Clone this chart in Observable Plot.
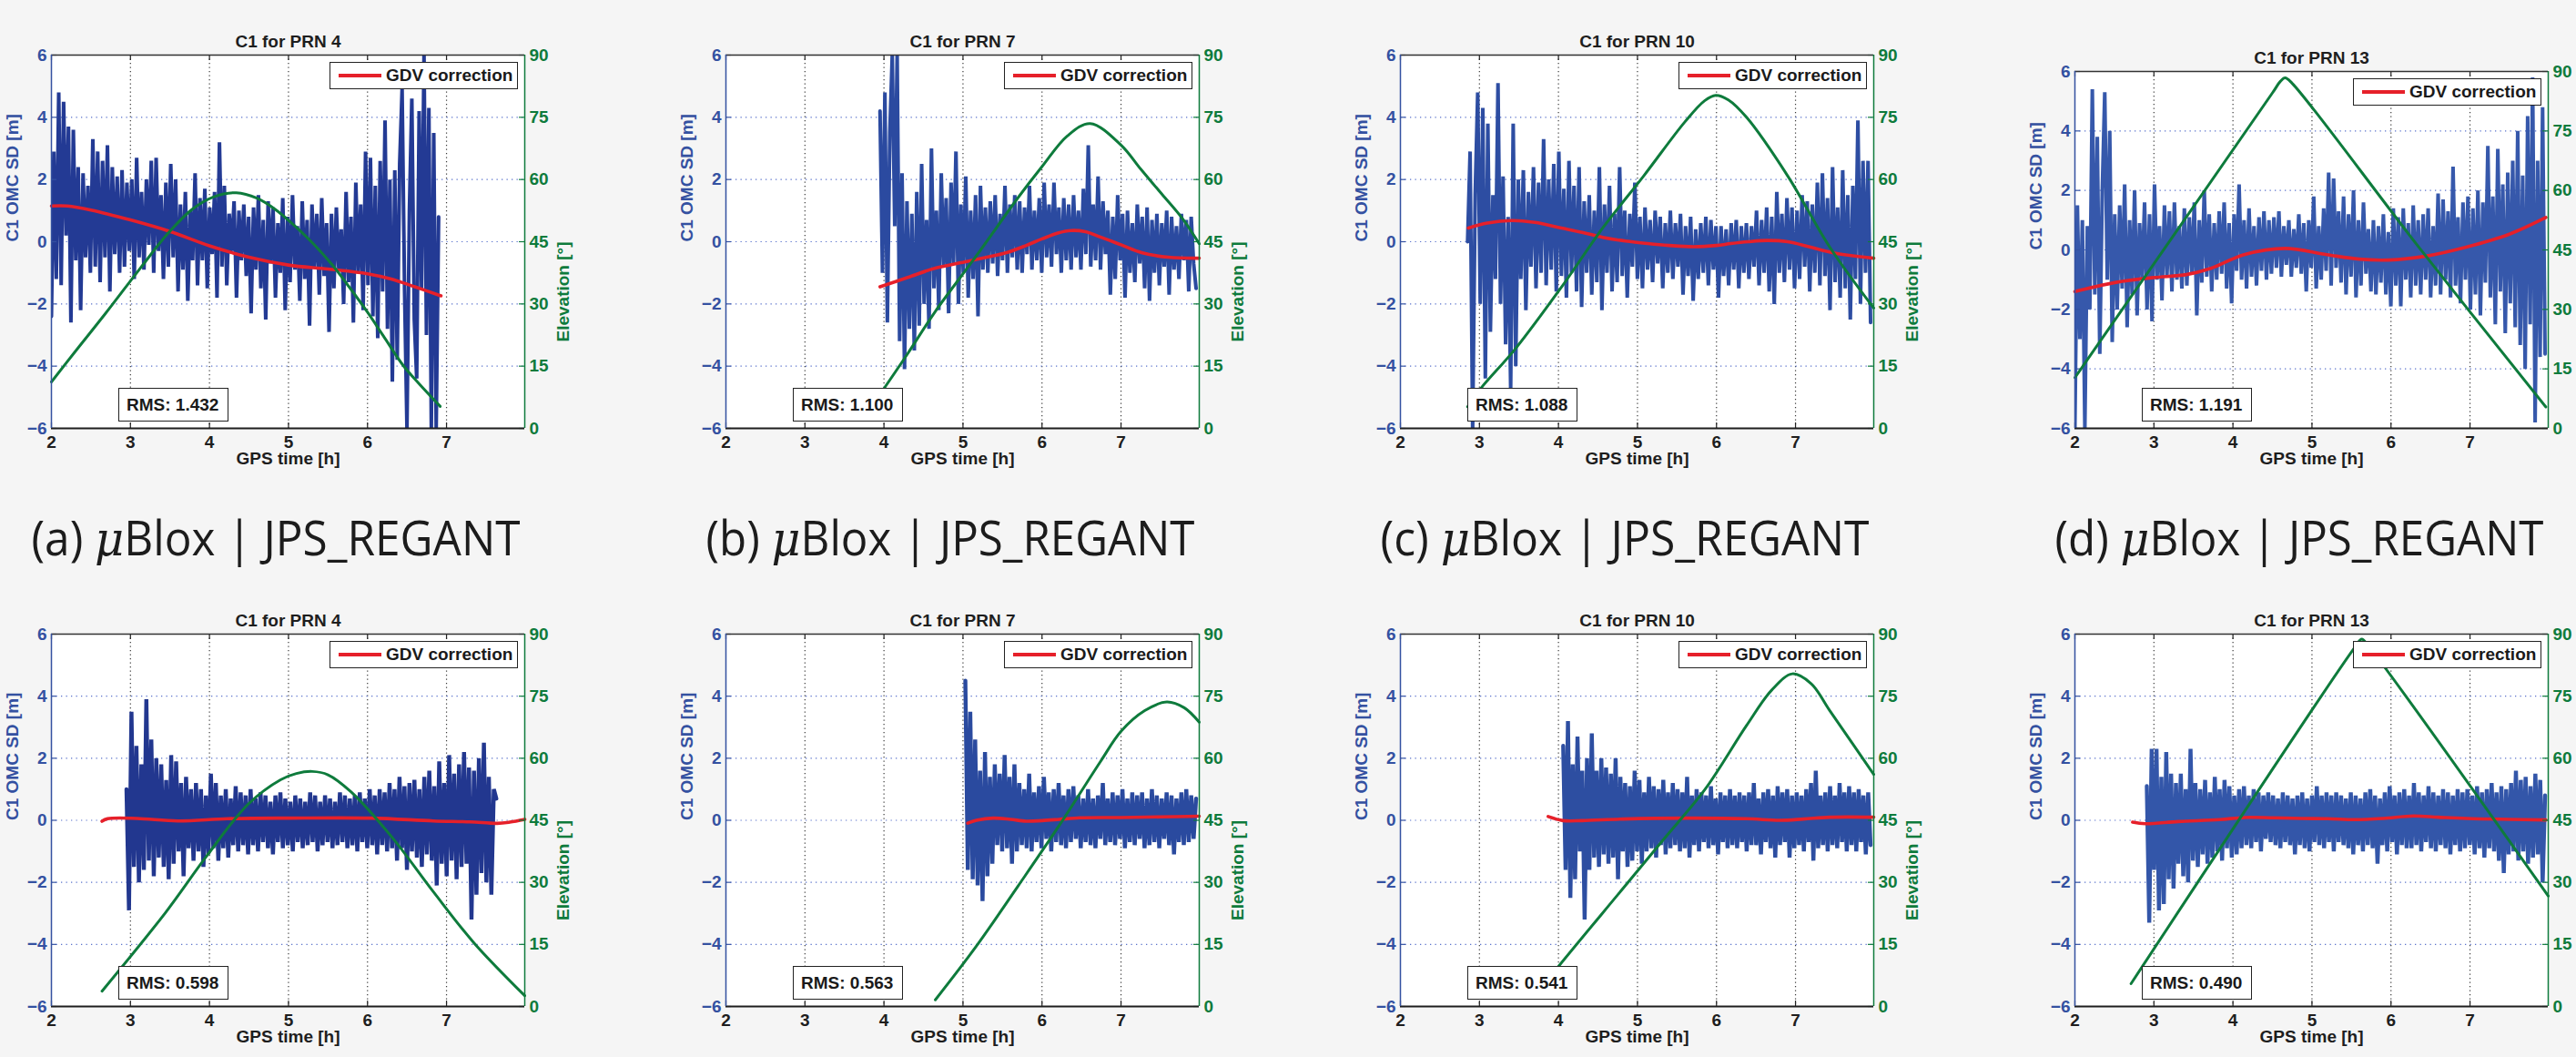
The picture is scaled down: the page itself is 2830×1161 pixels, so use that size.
<!DOCTYPE html>
<html><head><meta charset="utf-8">
<script src="https://cdn.jsdelivr.net/npm/d3@7"></script>
<script src="https://cdn.jsdelivr.net/npm/@observablehq/plot@0.6"></script>
<style>
html,body{margin:0;padding:0;background:#f5f5f5;}
#root{position:relative;width:2830px;height:1161px;overflow:hidden;background:#f5f5f5;}
.panel{position:absolute;}
.panel svg{position:absolute;left:0;top:0;}
.box{position:absolute;background:#fff;border:1.5px solid #222;box-sizing:border-box;font:bold 19px "Liberation Sans",Arial,sans-serif;color:#1a1a1a;white-space:nowrap;display:flex;align-items:center;}
</style></head><body><div id="root"></div>
<script>
// ---------- axis ticks / texts ----------
const xTicks = [2, 3, 4, 5, 6, 7];
const yTicks = [-6, -4, -2, 0, 2, 4, 6];
const elevTicks = [0, 15, 30, 45, 60, 75, 90];
const xDomain = [2, 7.99];
const titles = ["C1 for PRN 4", "C1 for PRN 7", "C1 for PRN 10", "C1 for PRN 13"];
const rmsTop = ["1.432", "1.100", "1.088", "1.191"];
const rmsBottom = ["0.598", "0.563", "0.541", "0.490"];
const captionLetters = ["(a)", "(b)", "(c)", "(d)"];

// ---------- top row: uBlox ----------
const spanTopA = [2.0, 6.9];
const blueTopA = [-2.4,2.9,-1.2,4.8,-1.4,4.5,0.2,3.7,-2.6,3.6,
-0.6,2.4,-2.2,2.2,-0.5,1.8,-1.0,3.3,-0.8,2.9,
-1.3,2.6,-0.5,3.1,-1.6,2.4,-0.4,2.1,-1.0,2.3,
-0.8,1.9,-0.3,2.0,-1.2,2.7,-0.5,1.6,-0.9,2.0,
-0.1,2.6,-1.0,2.7,-0.3,1.5,-1.2,1.9,-0.8,2.5,
-0.5,2.0,-1.6,1.2,-0.9,1.6,-1.9,1.0,-0.6,2.2,
-1.4,1.4,-0.6,1.7,-1.5,1.1,-0.4,1.6,-1.8,3.2,
-0.8,1.8,-1.4,0.9,-0.3,1.3,-1.8,1.0,-0.6,1.2,
-1.1,0.8,-2.3,1.1,-0.9,1.5,-1.5,0.7,-2.5,1.3,
-0.7,1.1,-1.8,0.6,-1.0,1.4,-2.2,0.8,-1.3,1.5,
-0.9,0.5,-1.9,1.3,-1.2,0.7,-2.7,1.2,-0.8,0.9,
-1.7,1.4,-1.1,0.6,-2.9,0.9,-1.5,1.1,-0.9,0.4,
-2.0,1.6,-1.3,0.8,-2.6,1.9,-1.0,1.2,-2.2,2.9,
-1.4,2.7,-2.4,1.8,-3.1,2.6,-1.6,3.9,-2.8,2.0,
-4.5,2.3,-3.8,2.5,4.9,-1.5,-6.0,1.0,4.6,-2.5,
-4.4,4.2,-1.5,6.0,-3.0,4.3,-6.0,3.5,-6.0,0.8];
const redTopA_t = [2.0, 2.2, 2.5, 3.0, 3.5, 4.0, 4.5, 5.0, 5.5, 6.0, 6.3, 6.6, 6.93];
const redTopA_v = [1.15, 1.15, 1.02, 0.7, 0.33, -0.13, -0.5, -0.75, -0.88, -1.03, -1.2, -1.45, -1.74];
const elevTopA_t = [2.0, 2.3, 2.68, 3.12, 3.47, 3.78, 4.05, 4.34, 4.6, 4.84, 5.08, 5.32, 5.55, 5.76, 6.0, 6.2, 6.45, 6.65, 6.92];
const elevTopA_v = [11.2, 18.5, 27.6, 38.5, 46.9, 52.8, 55.8, 56.8, 55.5, 52.7, 48.8, 44.4, 39.5, 34.3, 28, 22.3, 15.2, 10.8, 5.3];

const spanTopB = [3.95, 7.95];
const blueTopB = [4.2,-1.0,4.8,-2.6,3.5,6.0,0.5,6.0,-3.2,2.2,
-4.1,1.3,-2.8,0.9,-3.5,1.6,-2.7,2.5,-2.0,0.7,
-2.8,3.0,-1.5,1.0,-2.2,2.2,-0.8,1.4,-2.3,1.9,
-0.7,2.9,-2.0,1.2,-1.0,2.1,-1.8,1.0,-1.2,1.5,
-2.4,1.8,-0.9,1.1,-1.0,1.3,-0.7,1.5,-1.1,0.9,
-0.6,1.8,-1.0,1.2,-0.5,1.5,-0.9,1.3,-1.0,1.1,
-0.4,1.8,-0.9,1.0,-0.6,1.4,-1.0,1.9,-0.5,1.2,
-0.8,1.9,-0.4,1.1,-1.0,1.4,-0.6,1.2,-0.9,1.5,
-0.5,1.0,-0.9,1.7,-0.4,3.1,-0.8,1.2,-0.6,2.1,
-0.9,1.3,-0.4,1.0,-1.7,0.8,-1.2,1.5,-0.6,0.9,
-1.8,1.0,-1.0,0.6,-1.3,1.2,-0.7,0.8,-1.5,1.1,
-1.9,0.7,-1.0,0.9,-1.4,0.6,-0.8,1.0,-1.7,0.8,
-0.9,0.5,-1.2,0.9,-0.6,0.7,-1.6,0.8,-0.7,-1.5];
const redTopB_t = [3.95, 4.3, 4.65, 5.02, 5.3, 5.54, 5.8, 6.0, 6.2, 6.37, 6.55, 6.74, 7.0, 7.26, 7.6, 7.99];
const redTopB_v = [-1.45, -1.15, -0.85, -0.65, -0.5, -0.36, -0.12, 0.09, 0.28, 0.36, 0.32, 0.15, -0.1, -0.35, -0.5, -0.53];
const elevTopB_t = [3.95, 4.3, 4.65, 5.17, 5.7, 6.0, 6.32, 6.61, 7.0, 7.25, 7.52, 7.78, 7.99];
const elevTopB_v = [8.2, 18, 28.2, 41.6, 55.7, 63.1, 70.5, 73.5, 68.3, 62.5, 56.4, 50.5, 44.5];

const spanTopC = [2.85, 7.95];
const blueTopC = [0.0,2.9,-6.0,1.5,4.8,-2.0,4.3,-4.4,3.8,-2.9,
1.5,-1.2,5.1,-2.0,2.1,-3.3,0.8,-4.7,3.8,-4.0,
2.0,-1.2,2.3,-2.2,1.6,-0.8,2.4,-1.5,1.9,-1.0,
3.3,-1.4,2.0,-0.9,2.5,-1.6,2.9,-1.1,1.7,-1.8,
2.6,-1.0,1.8,-1.6,2.4,-2.1,1.3,-1.0,1.5,-1.7,
1.0,-1.3,2.4,-2.2,1.2,-1.0,1.8,-1.6,0.9,-1.3,
2.4,-1.1,1.0,-1.8,0.9,-0.8,1.9,-1.2,0.8,-1.5,
1.1,-0.9,0.7,-1.3,1.0,-0.7,0.8,-1.5,0.6,-1.0,
1.0,-1.2,0.6,-0.8,0.9,-1.7,0.5,-1.1,0.8,-1.9,
0.4,-1.2,0.6,-1.0,0.8,-1.4,0.7,-0.9,0.5,-1.8,
0.5,-1.1,0.4,-1.4,0.6,-0.9,0.7,-1.5,0.5,-1.0,
0.6,-1.2,0.5,-0.8,1.0,-1.4,0.7,-1.0,1.1,-1.6,
0.8,-2.0,1.6,-1.0,0.9,-1.3,1.4,-0.9,1.1,-1.5,
1.0,-1.2,1.5,-0.8,1.3,-1.6,1.2,-1.0,1.9,-1.4,
2.2,-1.1,1.4,-2.2,2.4,-1.3,1.1,-1.8,2.3,-1.5,
1.5,-2.5,1.8,-1.2,3.9,-2.0,2.6,-1.0,2.6,-2.6];
const redTopC_t = [2.86, 3.1, 3.41, 3.7, 4.04, 4.3, 4.56, 4.85, 5.13, 5.4, 5.71, 6.0, 6.18, 6.4, 6.64, 6.9, 7.17, 7.48, 7.99];
const redTopC_v = [0.44, 0.6, 0.68, 0.62, 0.44, 0.3, 0.14, 0.02, -0.06, -0.12, -0.16, -0.12, -0.06, 0.0, 0.04, 0.0, -0.16, -0.36, -0.53];
const elevTopC_t = [2.85, 3.02, 3.46, 4.04, 4.56, 5.08, 5.6, 5.85, 5.99, 6.15, 6.38, 6.9, 7.43, 7.99];
const elevTopC_v = [5.2, 9.7, 19.3, 34.1, 48.3, 60.9, 73.9, 79, 80.3, 79.2, 75, 60.9, 43.8, 29];

const spanTopD = [2.0, 7.95];
const blueTopD = [-6.0,1.5,-3.0,1.0,-6.0,0.8,-2.0,5.4,-1.5,3.8,
-3.5,2.0,5.3,-1.0,4.0,-3.1,1.2,-2.0,1.5,-1.3,
2.2,-2.6,1.0,-1.5,2.0,-2.2,0.9,-1.0,1.6,-2.0,
1.2,-2.4,2.2,-1.0,0.8,-1.7,1.5,-0.9,1.3,-1.4,
1.6,-1.0,0.8,-1.3,1.4,-1.2,1.1,-0.8,1.6,-2.2,
1.0,-1.1,2.0,-0.9,1.2,-1.4,0.9,-1.0,1.3,-0.8,
1.6,-1.3,0.9,-1.8,1.2,-0.7,2.2,-1.0,1.0,-1.3,
1.4,-0.9,0.8,-1.2,1.1,-0.7,1.3,-1.0,1.0,-0.8,
1.1,-0.6,1.3,-0.9,0.8,-0.5,1.0,-0.9,0.7,-0.6,
1.2,-0.8,0.9,-1.4,1.0,-0.6,1.8,-1.3,0.8,-1.0,
1.4,-0.7,2.6,-1.2,2.4,-0.6,1.3,-1.1,1.8,-1.5,
1.2,-0.9,2.0,-1.6,1.0,-1.2,1.6,-0.8,0.7,-1.4,
1.0,-1.5,0.8,-1.1,1.2,-1.5,0.6,-1.9,1.4,-1.2,
1.1,-1.9,1.4,-1.0,0.9,-1.6,1.5,-1.2,1.0,-1.5,
1.2,-1.0,1.4,-1.6,0.8,-1.2,1.9,-1.5,1.7,-1.0,
1.3,-1.6,2.8,-1.2,1.1,-1.8,1.6,-1.0,1.8,-2.0,
1.4,-1.5,2.0,-2.2,1.6,-1.1,3.5,-1.6,1.8,-2.5,
3.4,-1.4,2.2,-2.8,2.6,-1.8,3.0,-2.6,4.0,-3.2,
2.5,-4.0,4.5,-2.5,5.8,-5.8,3.0,-3.6,4.8,-3.5];
const redTopD_t = [2.0, 2.52, 2.99, 3.41, 3.72, 4.14, 4.66, 5.19, 5.6, 5.97, 6.44, 6.96, 7.49, 7.96];
const redTopD_v = [-1.4, -1.09, -0.93, -0.83, -0.62, -0.16, 0.05, -0.16, -0.31, -0.34, -0.21, 0.1, 0.52, 1.09];
const elevTopD_t = [2.0, 4.5, 4.6, 4.66, 4.75, 6.34, 7.96];
const elevTopD_v = [12.8, 84.6, 87.5, 88.4, 87, 46, 5.4];

// ---------- bottom row: JPS ----------
const spanBotA = [2.95, 7.63];
const blueBotA = [1.0,-2.9,3.5,-1.5,2.4,-2.0,1.8,-1.6,3.9,-1.3,
2.6,-1.8,2.0,-1.2,1.8,-1.5,1.3,-1.9,2.1,-1.4,
1.9,-1.0,1.2,-1.8,1.4,-0.9,1.0,-1.3,1.2,-1.0,
1.0,-1.5,0.8,-1.1,1.5,-0.9,1.2,-1.3,0.8,-0.9,
1.0,-1.2,0.7,-0.8,1.1,-1.0,0.9,-0.8,0.8,-1.1,
1.0,-0.8,0.7,-1.0,0.9,-0.7,0.8,-0.9,0.6,-1.1,
0.8,-0.7,0.9,-0.9,0.7,-0.8,0.6,-1.0,0.8,-0.7,
0.7,-0.9,0.6,-0.8,0.9,-0.7,0.8,-1.0,0.6,-0.8,
0.8,-0.7,0.7,-0.9,0.6,-0.8,0.9,-0.7,0.8,-0.9,
0.7,-0.8,0.8,-1.0,0.9,-0.7,0.7,-0.9,1.0,-0.8,
0.8,-1.1,1.0,-0.8,0.9,-1.0,1.2,-0.9,1.0,-1.3,
1.4,-0.9,1.1,-1.6,1.2,-1.0,1.3,-1.2,1.0,-1.5,
1.4,-1.1,1.6,-1.3,1.1,-2.1,1.9,-1.4,1.2,-1.8,
2.1,-1.3,1.5,-1.9,1.8,-1.5,2.2,-1.4,1.7,-3.2,
1.6,-2.4,2.0,-1.7,2.5,-2.0,1.4,-2.4,1.0,0.7];
const redBotA_t = [2.64, 2.71, 3.08, 3.6, 4.23, 5.0, 6.05, 6.83, 7.3, 7.64, 7.8, 7.99];
const redBotA_v = [-0.03, 0.05, 0.06, -0.02, 0.05, 0.07, 0.07, -0.02, -0.05, -0.1, -0.06, 0.03];
const elevBotA_t = [2.64, 3.44, 3.97, 4.49, 4.9, 5.1, 5.3, 5.5, 5.79, 6.31, 6.83, 7.35, 7.99];
const elevBotA_v = [3.7, 22.6, 36.5, 48.9, 54.8, 56.3, 56.8, 56, 51.9, 40.9, 27.8, 15.3, 2.6];

const spanBotB = [5.03, 7.95];
const blueBotB = [4.5,-1.6,3.5,-1.9,2.6,-2.1,1.6,-2.6,2.2,-1.8,
1.4,-1.4,1.8,-0.8,1.5,-1.0,2.1,-0.9,1.4,-1.4,
1.8,-1.0,1.2,-0.8,1.0,-0.9,1.5,-1.0,0.9,-0.7,
1.1,-0.9,1.4,-0.6,0.9,-1.0,1.0,-0.7,1.2,-0.8,
0.8,-0.9,1.0,-0.7,1.1,-0.6,0.8,-0.9,0.7,-0.7,
1.0,-0.8,0.7,-0.9,0.8,-0.6,1.2,-0.8,0.7,-0.7,
0.9,-0.8,0.8,-0.6,1.0,-0.9,0.7,-0.7,0.9,-0.8,
0.8,-0.6,0.9,-0.9,0.7,-0.8,1.0,-0.7,0.8,-0.9,
0.7,-0.6,0.9,-0.8,0.8,-1.1,0.7,-0.7,0.9,-0.8,
1.0,-0.7,0.8,-0.6,0.7];
const redBotB_t = [5.06, 5.17, 5.38, 5.6, 5.8, 6.0, 6.22, 6.48, 7.0, 7.5, 7.99];
const redBotB_v = [-0.09, 0.0, 0.07, 0.03, -0.03, -0.01, 0.03, 0.08, 0.09, 0.11, 0.13];
const elevBotB_t = [4.65, 5.17, 5.7, 6.22, 6.74, 7.0, 7.3, 7.58, 7.8, 7.99];
const elevBotB_v = [1.6, 14.6, 29.2, 43.8, 59.2, 66.5, 71.5, 73.6, 72.2, 68.7];

const spanBotC = [4.06, 7.95];
const blueBotC = [2.4,-1.6,3.2,-2.5,1.8,-1.9,2.7,-1.0,1.6,-3.2,
2.0,-1.6,2.8,-1.2,1.6,-1.5,2.0,-1.1,1.7,-1.4,
1.5,-1.2,2.0,-1.9,1.4,-1.0,1.2,-1.5,1.1,-1.3,
1.6,-1.0,1.3,-1.4,0.9,-1.0,1.4,-0.9,1.1,-1.2,
1.0,-0.8,1.3,-1.1,0.9,-0.9,1.2,-0.8,1.0,-1.0,
0.9,-0.9,1.4,-1.2,0.8,-0.8,1.0,-1.0,0.9,-0.7,
0.8,-0.9,1.1,-0.8,0.7,-1.1,0.9,-0.7,0.8,-0.9,
1.0,-0.8,0.8,-0.9,0.9,-0.7,0.8,-1.0,0.9,-0.8,
1.2,-0.8,0.7,-1.1,0.9,-0.7,1.0,-0.9,0.8,-1.2,
1.1,-0.8,0.9,-0.7,1.0,-1.2,0.8,-0.9,0.9,-0.8,
0.8,-1.0,1.0,-0.7,1.2,-1.3,1.6,-0.9,0.8,-0.8,
0.9,-1.0,1.1,-0.8,0.8,-0.9,1.2,-0.7,0.9,-1.0,
1.1,-0.8,0.9,-1.0,1.0,-0.7,0.8,-1.1,0.9,-0.8];
const redBotC_t = [3.87, 4.06, 4.3, 4.82, 5.6, 6.38, 6.8, 7.1, 7.43, 7.99];
const redBotC_v = [0.12, -0.01, -0.01, 0.04, 0.07, 0.05, 0.0, 0.04, 0.1, 0.1];
const elevBotC_t = [3.87, 4.01, 4.82, 5.34, 5.86, 6.38, 6.7, 6.96, 7.2, 7.43, 7.99];
const elevBotC_v = [6.5, 9.9, 28.6, 40.6, 52.6, 67.9, 76.5, 80.4, 78, 71.6, 56.1];

const spanBotD = [2.91, 7.95];
const blueBotD = [1.1,-3.3,2.3,-1.6,2.3,-2.9,1.4,-2.7,2.2,-1.9,
1.5,-2.2,1.2,-1.4,1.5,-1.8,1.0,-2.0,2.3,-1.3,
1.2,-1.5,1.0,-1.1,1.3,-1.4,0.9,-1.2,1.4,-1.0,
1.0,-1.3,1.3,-0.9,1.1,-1.2,0.8,-1.1,1.0,-0.9,
1.1,-0.8,0.8,-0.9,1.0,-0.7,0.9,-1.0,0.8,-0.6,
0.9,-0.7,0.8,-0.8,0.7,-0.9,0.9,-0.7,0.8,-0.8,
0.7,-1.1,0.8,-0.8,0.9,-0.9,0.7,-1.0,0.8,-0.7,
1.1,-0.8,0.8,-0.9,0.9,-0.7,0.8,-1.0,0.9,-0.7,
0.8,-0.8,0.7,-0.9,0.9,-1.1,0.8,-0.8,0.7,-1.0,
0.9,-0.8,1.0,-0.9,0.8,-1.4,0.7,-0.8,0.9,-1.0,
1.1,-0.7,0.8,-1.1,0.9,-0.8,1.0,-0.9,0.8,-0.9,
1.2,-0.8,0.9,-1.0,0.8,-0.7,1.1,-0.9,0.9,-1.0,
0.8,-0.8,1.0,-0.9,0.9,-1.1,0.8,-0.8,1.0,-1.0,
0.9,-0.9,1.0,-0.8,0.8,-1.1,1.1,-0.9,0.9,-1.2,
1.0,-0.9,1.2,-1.0,0.9,-1.3,1.1,-1.7,1.0,-1.1,
1.2,-1.0,1.6,-1.3,1.3,-1.0,1.4,-1.4,1.1,-1.2,
1.5,-1.1,1.3,-2.0,0.8];
const redBotD_t = [2.73, 2.89, 3.31, 3.83, 4.14, 4.5, 4.87, 5.2, 5.55, 5.9, 6.28, 6.6, 6.96, 7.5, 7.96];
const redBotD_v = [-0.06, -0.11, -0.04, 0.02, 0.09, 0.08, 0.06, 0.05, 0.02, 0.06, 0.14, 0.1, 0.06, 0.03, 0.01];
const elevBotD_t = [2.71, 5.55, 5.63, 5.72, 7.99];
const elevBotD_v = [5.5, 87, 88.8, 87, 26.7];

// ---------- styling ----------
const FONT = "'Liberation Sans', Arial, Helvetica, sans-serif";
const RED = "#e6202a";
const GREEN = "#0e7b3c";
const AXBLUE = "#3451a1";
const W = 741, ML = 56, MR = 165, INNERW = W - ML - MR;

const panels = [
  {col:0,row:0,blue:blueTopA,span:spanTopA,rt:redTopA_t,rv:redTopA_v,et:elevTopA_t,ev:elevTopA_v,color:"#233a94",rms:rmsTop[0]},
  {col:1,row:0,blue:blueTopB,span:spanTopB,rt:redTopB_t,rv:redTopB_v,et:elevTopB_t,ev:elevTopB_v,color:"#2b4aa0",rms:rmsTop[1]},
  {col:2,row:0,blue:blueTopC,span:spanTopC,rt:redTopC_t,rv:redTopC_v,et:elevTopC_t,ev:elevTopC_v,color:"#2d4da2",rms:rmsTop[2]},
  {col:3,row:0,blue:blueTopD,span:spanTopD,rt:redTopD_t,rv:redTopD_v,et:elevTopD_t,ev:elevTopD_v,color:"#3658ab",rms:rmsTop[3]},
  {col:0,row:1,blue:blueBotA,span:spanBotA,rt:redBotA_t,rv:redBotA_v,et:elevBotA_t,ev:elevBotA_v,color:"#22378f",rms:rmsBottom[0]},
  {col:1,row:1,blue:blueBotB,span:spanBotB,rt:redBotB_t,rv:redBotB_v,et:elevBotB_t,ev:elevBotB_v,color:"#2a4a9f",rms:rmsBottom[1]},
  {col:2,row:1,blue:blueBotC,span:spanBotC,rt:redBotC_t,rv:redBotC_v,et:elevBotC_t,ev:elevBotC_v,color:"#2d4ea1",rms:rmsBottom[2]},
  {col:3,row:1,blue:blueBotD,span:spanBotD,rt:redBotD_t,rv:redBotD_v,et:elevBotD_t,ev:elevBotD_v,color:"#3356a9",rms:rmsBottom[3]}
];

const root = document.getElementById("root");

for (const p of panels) {
  const top = p.row === 0 ? 0 : 640;
  const H = p.row === 0 ? 530 : 521;
  const MT = p.row === 0 ? (p.col === 3 ? 78 : 60) : 56;
  const MB = p.row === 0 ? 60 : 56;
  const innerH = H - MT - MB;
  const left = 741 * p.col;
  const div = document.createElement("div");
  div.className = "panel";
  div.style.left = left + "px";
  div.style.top = top + "px";
  div.style.width = W + "px";
  div.style.height = H + "px";
  root.appendChild(div);

  const t0 = p.span[0];
  const dt = (p.span[1] - p.span[0]) / (p.blue.length - 1);
  const style = {background: "transparent", fontFamily: FONT, fontSize: "19px", fontWeight: "bold", overflow: "visible"};
  const blueWidth = p.row === 0 ? 4.0 : 4.4;

  const plotA = Plot.plot({
    width: W, height: H, marginLeft: ML, marginRight: MR, marginTop: MT, marginBottom: MB,
    style,
    x: {domain: xDomain},
    y: {domain: [-6, 6]},
    marks: [
      Plot.frame({fill: "#fff", stroke: null}),
      Plot.ruleX(xTicks.slice(1), {stroke: "#3a3a3a", strokeWidth: 1.2, strokeDasharray: "1.3,3.2"}),
      Plot.ruleY(yTicks.slice(1, -1), {stroke: "#5b73cc", strokeWidth: 1.2, strokeDasharray: "1.3,4.2"}),
      Plot.lineY(p.blue, {x: (d, i) => t0 + i * dt, y: d => d, stroke: p.color, strokeWidth: blueWidth, strokeLinejoin: "miter", strokeMiterlimit: 1.5, clip: true}),
      Plot.line(d3.zip(p.rt, p.rv), {stroke: RED, strokeWidth: 3.6, curve: "catmull-rom"}),
      Plot.tickX(xTicks, {x: d => d, stroke: "#222", strokeWidth: 1.2, insetBottom: innerH - 6}),
      Plot.tickX(xTicks, {x: d => d, stroke: "#222", strokeWidth: 1.2, insetTop: innerH - 6}),
      Plot.tickY(yTicks, {y: d => d, stroke: AXBLUE, strokeWidth: 1.2, insetRight: INNERW - 6}),
      Plot.axisX({ticks: xTicks, tickFormat: d => String(d), anchor: "bottom", tickSize: 0, tickPadding: 8, label: null, color: "#1e1e1e"}),
      Plot.axisY({ticks: yTicks, anchor: "left", tickSize: 0, tickPadding: 5, label: null, color: AXBLUE}),
      Plot.text([titles[p.col]], {text: d => d, frameAnchor: "top", dy: -22, fill: "#1e1e1e", fontWeight: "bold"}),
      Plot.text(["GPS time [h]"], {text: d => d, frameAnchor: "bottom", dy: 39, fill: "#1e1e1e", fontWeight: "bold"}),
      Plot.text(["C1 OMC SD [m]"], {text: d => d, frameAnchor: "left", dx: -43, rotate: -90, fill: AXBLUE, fontWeight: "bold"})
    ]
  });
  div.appendChild(plotA);

  const plotB = Plot.plot({
    width: W, height: H, marginLeft: ML, marginRight: MR, marginTop: MT, marginBottom: MB,
    style,
    x: {domain: xDomain, axis: null},
    y: {domain: [0, 90]},
    marks: [
      Plot.line(d3.zip(p.et, p.ev), {stroke: GREEN, strokeWidth: 3, curve: "catmull-rom"}),
      Plot.tickY(elevTicks, {y: d => d, stroke: GREEN, strokeWidth: 1.2, insetLeft: INNERW - 6}),
      Plot.ruleY([0], {stroke: "#1e1e1e", strokeWidth: 1.8}),
      Plot.ruleY([90], {stroke: "#333", strokeWidth: 1.4}),
      Plot.ruleX([xDomain[0]], {stroke: AXBLUE, strokeWidth: 1.5}),
      Plot.ruleX([xDomain[1]], {stroke: GREEN, strokeWidth: 1.5}),
      Plot.axisY({ticks: elevTicks, anchor: "right", tickSize: 0, tickPadding: 5, label: null, color: GREEN}),
      p.col < 3 ? Plot.text(["Elevation [°]"], {text: d => d, frameAnchor: "right", dx: 42, rotate: -90, fill: GREEN, fontWeight: "bold"}) : null
    ]
  });
  div.appendChild(plotB);

  // legend box
  const leg = document.createElement("div");
  leg.className = "box";
  leg.style.left = (ML + 306) + "px";
  leg.style.top = (MT + 8) + "px";
  leg.style.width = "207px";
  leg.style.height = "30px";
  leg.innerHTML = `<div style="position:absolute;left:9px;top:12px;width:47px;height:4px;background:${RED}"></div><span style="position:absolute;left:61px;">GDV correction</span>`;
  div.appendChild(leg);

  // RMS box
  const rb = document.createElement("div");
  rb.className = "box";
  rb.style.left = (ML + 74) + "px";
  rb.style.top = (H - MB - 44) + "px";
  rb.style.width = "121px";
  rb.style.height = "37px";
  rb.innerHTML = `<span style="position:absolute;left:8px;">RMS: ${p.rms}</span>`;
  div.appendChild(rb);
}

// captions between rows
const ns = "http://www.w3.org/2000/svg";
const cap = document.createElementNS(ns, "svg");
cap.setAttribute("width", 2830);
cap.setAttribute("height", 1161);
cap.style.position = "absolute";
cap.style.left = "0px";
cap.style.top = "0px";
cap.style.pointerEvents = "none";
root.appendChild(cap);
captionLetters.forEach((lab, i) => {
  const t = document.createElementNS(ns, "text");
  t.setAttribute("x", 741 * i + 303);
  t.setAttribute("y", 610);
  t.setAttribute("text-anchor", "middle");
  t.setAttribute("font-family", "'Open Sans', 'DejaVu Sans', sans-serif");
  t.setAttribute("font-size", 53);
  t.setAttribute("fill", "#1c1c1c");
  t.setAttribute("textLength", 537);
  t.setAttribute("lengthAdjust", "spacingAndGlyphs");
  const a = document.createElementNS(ns, "tspan");
  a.textContent = lab + " ";
  const mu = document.createElementNS(ns, "tspan");
  mu.setAttribute("font-family", "'DejaVu Serif', 'Liberation Serif', serif");
  mu.setAttribute("font-style", "italic");
  mu.textContent = "μ";
  const b = document.createElementNS(ns, "tspan");
  b.textContent = "Blox | JPS_REGANT";
  t.appendChild(a); t.appendChild(mu); t.appendChild(b);
  cap.appendChild(t);
});
</script></body></html>
